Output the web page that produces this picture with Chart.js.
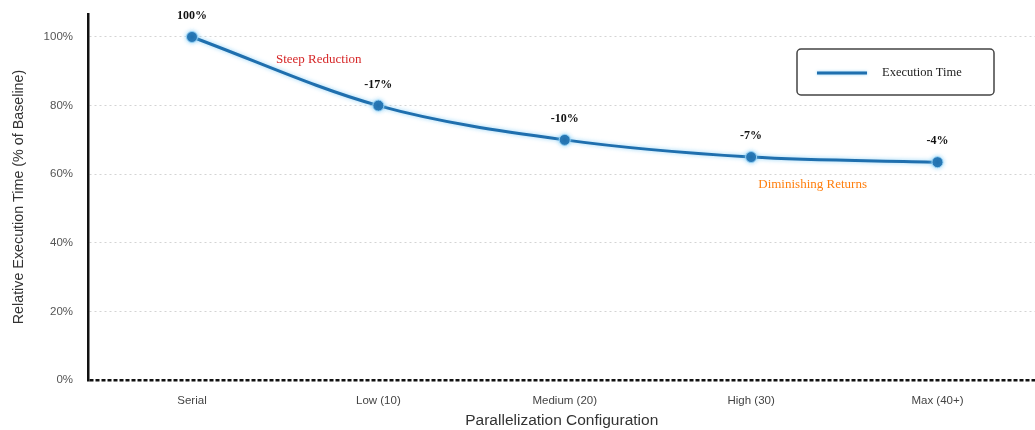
<!DOCTYPE html>
<html>
<head>
<meta charset="utf-8">
<script src="https://cdn.jsdelivr.net/npm/chart.js@4.4.1/dist/chart.umd.min.js"></script>
<style>
  html, body { margin: 0; padding: 0; background: #fff; overflow: hidden; }
  /* un poco más ancho que la ventana: el área del gráfico llega al borde derecho */
  #wrap { width: 1042px; height: 430px; }
  canvas { display: block; }
</style>
</head>
<body>
<div id="wrap"><canvas id="chart"></canvas></div>
<script>
// datos
const configs = ['Serial', 'Low (10)', 'Medium (20)', 'High (30)', 'Max (40+)'];
const execTime = [100, 80, 70, 65, 63.5];
const pointLabels = ['100%', '-17%', '-10%', '-7%', '-4%'];
const yTicks = [0, 20, 40, 60, 80, 100];

// anotaciones (en coordenadas de datos)
const notes = ['Steep Reduction', 'Diminishing Returns'];
const noteX = [0.68, 3.33];
const noteY = [93.5, 57];
const noteColors = ['#d62728', '#ff7f0e'];

const lineColor = '#1f6fae';
const serif = '"Liberation Serif", "Times New Roman", serif';
const sans = '"Liberation Sans", Arial, sans-serif';

// brillo azul claro alrededor de la línea
const glowPlugin = {
  id: 'glow',
  beforeDatasetsDraw(chart) {
    const ctx = chart.ctx;
    ctx.save();
    ctx.shadowColor = 'rgba(120, 200, 245, 0.8)';
    ctx.shadowBlur = 4;
  },
  afterDatasetsDraw(chart) {
    chart.ctx.restore();
  }
};

const labelsPlugin = {
  id: 'pointLabels',
  afterDatasetsDraw(chart) {
    const ctx = chart.ctx;
    const meta = chart.getDatasetMeta(0);
    const xs = chart.scales.x;
    const ys = chart.scales.y;
    ctx.save();
    ctx.textAlign = 'center';
    ctx.textBaseline = 'middle';

    ctx.font = 'bold 12px ' + serif;
    ctx.fillStyle = '#111';
    meta.data.forEach((pt, i) => {
      ctx.fillText(pointLabels[i], pt.x, pt.y - 21);
    });

    ctx.font = '13px ' + serif;
    notes.forEach((txt, i) => {
      ctx.fillStyle = noteColors[i];
      ctx.fillText(txt, xs.getPixelForValue(noteX[i]), ys.getPixelForValue(noteY[i]));
    });
    ctx.restore();
  }
};

const legendPlugin = {
  id: 'boxLegend',
  afterDraw(chart) {
    const ctx = chart.ctx;
    const ds = chart.data.datasets[0];
    const x = 797, y = 49, w = 197, h = 46;
    ctx.save();
    ctx.fillStyle = '#fff';
    ctx.strokeStyle = '#444';
    ctx.lineWidth = 1.5;
    ctx.beginPath();
    ctx.roundRect(x, y, w, h, 4);
    ctx.fill();
    ctx.stroke();

    ctx.strokeStyle = ds.borderColor;
    ctx.lineWidth = 3;
    ctx.shadowColor = 'rgba(120, 200, 245, 0.8)';
    ctx.shadowBlur = 3;
    ctx.beginPath();
    ctx.moveTo(x + 20, y + 24);
    ctx.lineTo(x + 70, y + 24);
    ctx.stroke();
    ctx.shadowBlur = 0;

    ctx.fillStyle = '#222';
    ctx.font = '12.5px ' + serif;
    ctx.textAlign = 'left';
    ctx.textBaseline = 'middle';
    ctx.fillText(ds.label, x + 85, y + 24);
    ctx.restore();
  }
};

const ctx = document.getElementById('chart').getContext('2d');
new Chart(ctx, {
  type: 'line',
  data: {
    datasets: [{
      label: 'Execution Time',
      data: execTime.map((v, i) => ({ x: i, y: v })),
      borderColor: lineColor,
      backgroundColor: lineColor,
      borderWidth: 3,
      pointRadius: 5.5,
      pointBackgroundColor: lineColor,
      pointBorderColor: 'rgba(150, 210, 245, 0.9)',
      pointBorderWidth: 1,
      cubicInterpolationMode: 'monotone',
      fill: false
    }]
  },
  options: {
    responsive: true,
    maintainAspectRatio: false,
    animation: false,
    layout: { padding: { top: 14, right: 0, left: 0, bottom: 0 } },
    plugins: {
      legend: { display: false },
      tooltip: { enabled: false }
    },
    scales: {
      x: {
        type: 'linear',
        min: -0.558,
        max: 4.526,
        afterBuildTicks: s => { s.ticks = configs.map((c, i) => ({ value: i })); },
        afterFit: s => { s.height = 50; s.paddingLeft = 0; s.paddingRight = 0; },
        grid: { display: false, drawTicks: false },
        border: { display: false },
        ticks: {
          padding: 14,
          color: '#444',
          font: { family: sans, size: 11.5 },
          callback: v => configs[v]
        },
        title: {
          display: true,
          text: 'Parallelization Configuration',
          color: '#333',
          font: { family: sans, size: 15.5 },
          padding: { top: 0, bottom: 0 }
        }
      },
      y: {
        min: 0,
        max: 106.7,
        afterBuildTicks: s => { s.ticks = yTicks.map(v => ({ value: v })); },
        afterFit: s => { s.width = 88; s.paddingTop = 0; s.paddingBottom = 0; },
        grid: {
          drawTicks: false,
          color: c => c.tick && c.tick.value === 0 ? '#111' : '#d4d4d4',
          lineWidth: c => c.tick && c.tick.value === 0 ? 2.5 : 1
        },
        border: {
          display: true,
          color: '#111',
          width: 2.5,
          dash: c => c.tick && c.tick.value === 0 ? [4, 2] : [2, 3]
        },
        ticks: {
          padding: 15,
          color: '#555',
          font: { family: sans, size: 11.5 },
          callback: v => v + '%'
        },
        title: {
          display: true,
          text: 'Relative Execution Time (% of Baseline)',
          color: '#333',
          font: { family: sans, size: 14.3 },
          padding: { top: 10, bottom: 0 }
        }
      }
    }
  },
  plugins: [glowPlugin, labelsPlugin, legendPlugin]
});
</script>
</body>
</html>
